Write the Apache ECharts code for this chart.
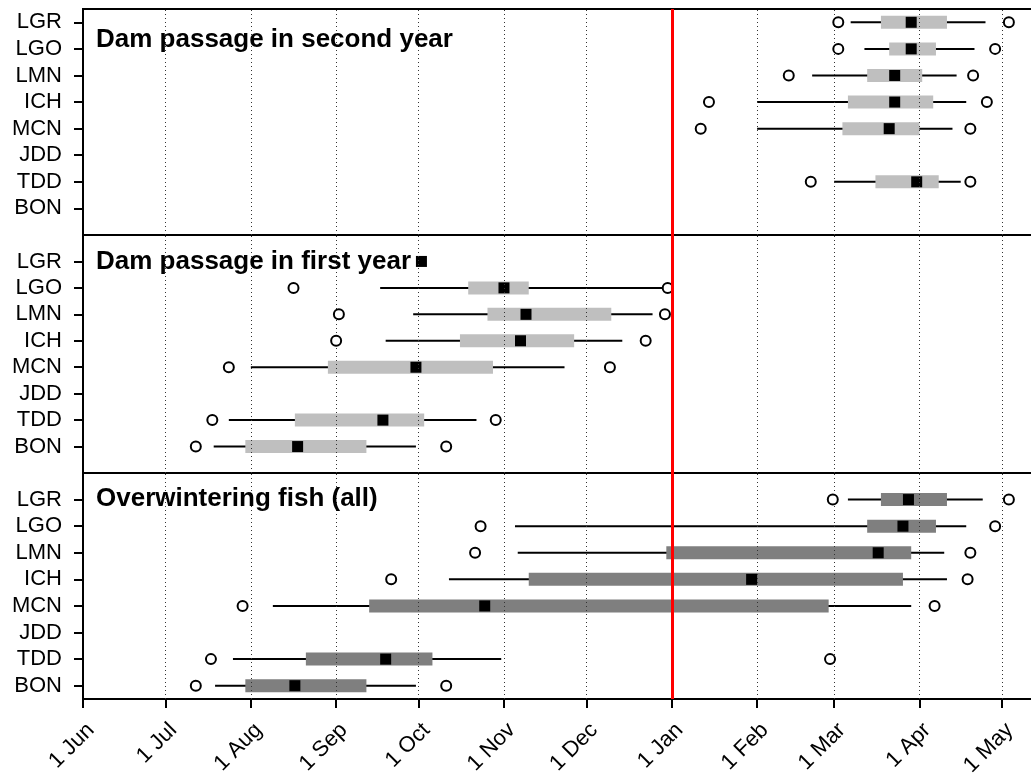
<!DOCTYPE html>
<html><head><meta charset="utf-8">
<script src="https://cdn.jsdelivr.net/npm/echarts@6/dist/echarts.min.js"></script>
<style>html,body{margin:0;padding:0;background:#fff}#c{width:1031px;height:778px}</style>
</head><body><div id="c"></div>
<script>
// Dams, top to bottom
const dams = ['LGR','LGO','LMN','ICH','MCN','JDD','TDD','BON'];
// X axis: days after 1 June
const monthDays = [0,30,61,92,122,153,183,214,245,273,304,334];
const monthLabels = ['1 Jun','1 Jul','1 Aug','1 Sep','1 Oct','1 Nov','1 Dec','1 Jan','1 Feb','1 Mar','1 Apr','1 May'];
const yearBreak = 214; // 1 Jan
const panelTitles = ['Dam passage in second year','Dam passage in first year','Overwintering fish (all)'];

// Panel 1: dam passage in second year (days after 1 June)
const syOutLo = [274.5, 274.5, 256.5, 227.5, 224.5, null, 264.5, null];
const syLo    = [279,   284,   265,   245,   245,   null, 273,   null];
const syQ1    = [290,   293,   285,   278,   276,   null, 288,   null];
const syMed   = [301,   301,   295,   295,   293,   null, 303,   null];
const syQ3    = [314,   310,   305,   309,   304,   null, 311,   null];
const syHi    = [328,   324,   317.5, 321,   316,   null, 319,   null];
const syOutHi = [336.5, 331.5, 323.5, 328.5, 322.5, null, 322.5, null];

// Panel 2: dam passage in first year
const fyOutLo = [null, 76.5,  93,  92,    53,   null, 47,  41];
const fyLo    = [null, 108,   120, 110,   61,   null, 53,  47.5];
const fyQ1    = [null, 140,   147, 137,   89,   null, 77,  59];
const fyMed   = [123,  153,   161, 159,   121,  null, 109, 78];
const fyQ3    = [null, 162,   192, 178.5, 149,  null, 124, 103];
const fyHi    = [null, 211,   207, 196,   175,  null, 143, 121];
const fyOutHi = [null, 212.5, 211.5, 204.5, 191.5, null, 150, 132];

// Panel 3: overwintering fish (all)
const owOutLo = [272.5, 144.5, 142.5, 112,   58,    null, 46.5,  41];
const owLo    = [278,   157,   158,   133,   69,    null, 54.5,  48];
const owQ1    = [290,   285,   212,   162,   104,   null, 81,    59];
const owMed   = [300,   298,   289,   243,   146,   null, 110,   77];
const owQ3    = [314,   310,   301,   298,   271,   null, 127,   103];
const owHi    = [327,   321,   313,   314,   301,   null, 152,   121];
const owOutHi = [336.5, 331.5, 322.5, 321.5, 309.5, null, 271.5, 132];

const panels = [
  {outLo: syOutLo, lo: syLo, q1: syQ1, med: syMed, q3: syQ3, hi: syHi, outHi: syOutHi},
  {outLo: fyOutLo, lo: fyLo, q1: fyQ1, med: fyMed, q3: fyQ3, hi: fyHi, outHi: fyOutHi},
  {outLo: owOutLo, lo: owLo, q1: owQ1, med: owMed, q3: owQ3, hi: owHi, outHi: owOutHi}
];

const FONT = '"Liberation Sans", Arial, Helvetica, sans-serif';
const boxFill = ['#BFBFBF', '#BFBFBF', '#7F7F7F'];
const gridTops = [9, 235, 473];
const gridHeights = [226, 238, 226];
const yRanges = [[0, 8.5], [0, 9], [0.5, 9]];
const xMax = 355;

const yPos = i => dams.length - i; // LGR -> 8, BON -> 1
const catVals = dams.map((d, i) => yPos(i));

function renderBox(fill) {
  return function (params, api) {
    const lo = api.value(0), q1 = api.value(1), q3 = api.value(2), hi = api.value(3), y = api.value(4);
    const a = api.coord([lo, y]), b = api.coord([hi, y]);
    const c = api.coord([q1, y]), d = api.coord([q3, y]);
    const h = 13;
    return {
      type: 'group',
      children: [
        {type: 'line', shape: {x1: a[0], y1: a[1], x2: b[0], y2: b[1]}, style: {stroke: '#000', lineWidth: 2}},
        {type: 'rect', shape: {x: c[0], y: c[1] - h / 2, width: d[0] - c[0], height: h}, style: {fill: fill, stroke: null}}
      ]
    };
  };
}

const grids = [], xAxes = [], yAxes = [], series = [];
panels.forEach((p, k) => {
  grids.push({left: 83, top: gridTops[k], width: xMax * 2.7515, height: gridHeights[k],
    containLabel: false, outerBoundsMode: 'none',
    show: true, borderColor: '#000', borderWidth: 2, backgroundColor: 'transparent'});
  const isBottom = k === panels.length - 1;
  xAxes.push({
    type: 'value', gridIndex: k, min: 0, max: xMax,
    axisLine: {show: false}, splitLine: {show: false},
    axisTick: {show: isBottom, customValues: monthDays, length: 9, lineStyle: {color: '#000', width: 2}},
    axisLabel: {show: isBottom, customValues: monthDays, rotate: 45, margin: 20, verticalAlign: 'top',
      fontSize: 22, color: '#000', fontFamily: FONT, hideOverlap: false,
      formatter: v => monthLabels[monthDays.indexOf(Math.round(v))] || ''}
  });
  yAxes.push({
    type: 'value', gridIndex: k, min: yRanges[k][0], max: yRanges[k][1],
    axisLine: {show: false}, splitLine: {show: false},
    axisTick: {show: true, customValues: catVals, length: 9, lineStyle: {color: '#000', width: 2}},
    axisLabel: {show: true, customValues: catVals, margin: 21, fontSize: 22, color: '#000', fontFamily: FONT,
      formatter: v => dams[dams.length - Math.round(v)] || ''}
  });
  // dotted month gridlines (1 Jan is covered by the red line)
  series.push({
    type: 'line', xAxisIndex: k, yAxisIndex: k, data: [], z: 1, silent: true,
    markLine: {symbol: 'none', silent: true, label: {show: false},
      lineStyle: {color: '#333', width: 1, type: [1, 3]},
      data: monthDays.filter(d => d > 0 && d !== yearBreak).map(d => ({xAxis: d}))}
  });
  // whiskers + boxes
  const boxData = [];
  dams.forEach((d, i) => {
    if (p.lo[i] != null && p.q1[i] != null && p.q3[i] != null && p.hi[i] != null)
      boxData.push([p.lo[i], p.q1[i], p.q3[i], p.hi[i], yPos(i)]);
  });
  series.push({type: 'custom', xAxisIndex: k, yAxisIndex: k, z: 3, silent: true,
    renderItem: renderBox(boxFill[k]), data: boxData, encode: {x: [0, 1, 2, 3], y: 4}});
  // medians
  series.push({type: 'scatter', xAxisIndex: k, yAxisIndex: k, z: 4, silent: true,
    symbol: 'rect', symbolSize: [11, 11], itemStyle: {color: '#000', opacity: 1},
    data: dams.map((d, i) => p.med[i] != null ? [p.med[i], yPos(i)] : null).filter(v => v)});
  // outliers
  const outs = [];
  dams.forEach((d, i) => {
    if (p.outLo[i] != null) outs.push([p.outLo[i], yPos(i)]);
    if (p.outHi[i] != null) outs.push([p.outHi[i], yPos(i)]);
  });
  series.push({type: 'scatter', xAxisIndex: k, yAxisIndex: k, z: 5, silent: true,
    symbol: 'circle', symbolSize: 10,
    itemStyle: {color: '#fff', borderColor: '#000', borderWidth: 2, opacity: 1}, data: outs});
  // red year-break line
  series.push({
    type: 'line', xAxisIndex: k, yAxisIndex: k, data: [], z: 10, silent: true,
    markLine: {symbol: 'none', silent: true, label: {show: false}, z: 10,
      lineStyle: {color: '#FF0000', width: 3, type: 'solid', opacity: 1},
      emphasis: {disabled: true},
      data: [{xAxis: yearBreak}]}
  });
});

const titleCenters = [40, 262, 499];
const chart = echarts.init(document.getElementById('c'), null, {renderer: 'canvas'});
chart.setOption({
  animation: false,
  backgroundColor: '#fff',
  grid: grids, xAxis: xAxes, yAxis: yAxes, series: series,
  graphic: panelTitles.map((t, k) => ({
    type: 'text', x: 96, y: titleCenters[k], z: 20,
    style: {text: t, fontSize: 26, fontWeight: 'bold', fontFamily: FONT, fill: '#000', verticalAlign: 'middle', align: 'left'}
  }))
});
</script>
</body></html>
